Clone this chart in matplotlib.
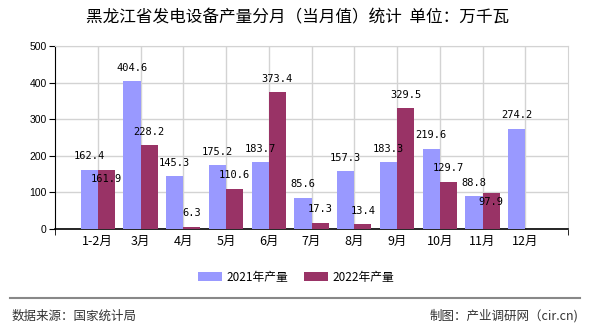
import matplotlib
matplotlib.use('Agg')
import matplotlib.pyplot as plt
import numpy as np
from matplotlib.lines import Line2D

plt.rcParams['font.family'] = ['Noto Sans CJK SC', 'DejaVu Sans']

# 数据
months = ['1-2月', '3月', '4月', '5月', '6月', '7月', '8月', '9月', '10月', '11月', '12月']
prod_2021 = [162.4, 404.6, 145.3, 175.2, 183.7, 85.6, 157.3, 183.3, 219.6, 88.8, 274.2]
prod_2022 = [161.9, 228.2, 6.3, 110.6, 373.4, 17.3, 13.4, 329.5, 129.7, 97.9]

c2021 = '#9999FF'
c2022 = '#993366'

fig = plt.figure(figsize=(5.9, 3.3), dpi=100)
ax = fig.add_axes([55 / 590, 1 - 229 / 330, 513 / 590, 183 / 330])

x = np.arange(len(months))
w = 0.4
ax.bar(x - w / 2, prod_2021, width=w, color=c2021, label='2021年产量', zorder=3)
x2 = np.arange(len(prod_2022))
ax.bar(x2 + w / 2, prod_2022, width=w, color=c2022, label='2022年产量', zorder=3)

# 数值标签
lab_font = dict(family='DejaVu Sans Mono', fontsize=7.5, ha='center', va='center', zorder=5)
for i, v in enumerate(prod_2021):
    ax.annotate(f'{v:.1f}', (i - w / 2, v), xytext=(0, 9.5), textcoords='offset points', **lab_font)
for i, v in enumerate(prod_2022):
    dy = 9.5
    if abs(v - prod_2021[i]) < 20:
        dy = -6.5  # 避免与2021标签重叠
    ax.annotate(f'{v:.1f}', (i + w / 2, v), xytext=(0, dy), textcoords='offset points', **lab_font)

ax.set_xlim(-1, len(months))
ax.set_ylim(0, 500)
ax.set_yticks(range(0, 501, 100))
ax.set_xticks(x)
ax.set_xticklabels(months, fontsize=9)
ax.set_xticks([-1, len(months)], minor=True)
ax.tick_params(axis='x', which='major', length=0, pad=4)
ax.tick_params(axis='x', which='minor', length=4, color='black', direction='out')
ax.tick_params(axis='y', length=4, labelsize=7.5, direction='out', pad=2)
for lbl in ax.get_yticklabels():
    lbl.set_family('Liberation Sans')

ax.grid(True, color='#D3D3D3', linewidth=1, zorder=0)
ax.set_axisbelow(True)
for s in ['top', 'right']:
    ax.spines[s].set_color('#D3D3D3')
ax.spines['left'].set_color('black')
ax.spines['bottom'].set_color('black')
ax.spines['bottom'].set_linewidth(1.2)

fig.text(0.505, 1 - 18 / 330, '黑龙江省发电设备产量分月（当月值）统计  单位：万千瓦',
         ha='center', va='center', fontsize=12)

fig.legend(loc='center', bbox_to_anchor=(296 / 590, 1 - 277 / 330), ncol=2, frameon=False,
           fontsize=8.5, handlelength=2.0, handleheight=0.8, handletextpad=0.35, columnspacing=1.4)

fig.add_artist(Line2D([10 / 590, 580 / 590], [1 - 298 / 330] * 2, color='#888888', lw=1.5,
                      transform=fig.transFigure))
fig.text(12 / 590, 1 - 316 / 330, '数据来源：国家统计局', ha='left', va='center', fontsize=9, color='#333333')
fig.text(578 / 590, 1 - 316 / 330, '制图：产业调研网（cir.cn)', ha='right', va='center', fontsize=9, color='#333333')

fig.savefig('out.png', dpi=100, facecolor='white')
